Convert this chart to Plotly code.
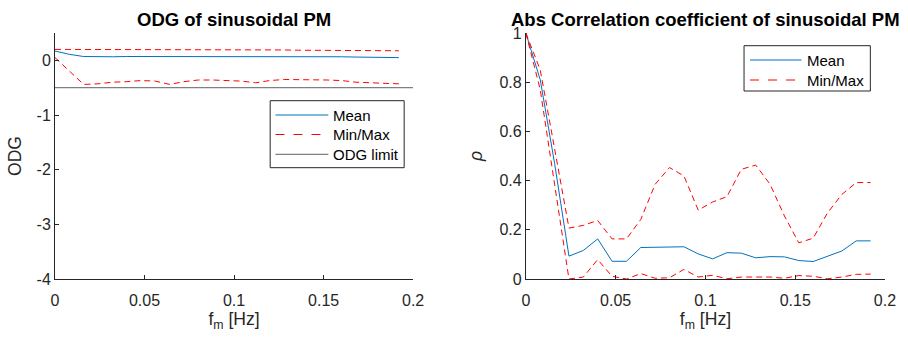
import plotly.graph_objects as go

# ---------------- data ----------------
fm = [0.0, 0.008, 0.016, 0.024, 0.032, 0.040, 0.048, 0.056, 0.064, 0.072,
      0.080, 0.088, 0.096, 0.104, 0.112, 0.120, 0.128, 0.136, 0.144, 0.152,
      0.160, 0.168, 0.176, 0.184, 0.192]

odg_mean = [0.17, 0.11, 0.07, 0.065, 0.065, 0.07, 0.07, 0.075, 0.075, 0.07,
            0.065, 0.065, 0.065, 0.07, 0.075, 0.075, 0.07, 0.07, 0.065, 0.065,
            0.065, 0.06, 0.06, 0.055, 0.05]
odg_max = [0.2, 0.2, 0.2, 0.195, 0.195, 0.195, 0.195, 0.195, 0.19, 0.19,
           0.19, 0.19, 0.19, 0.19, 0.19, 0.19, 0.19, 0.185, 0.185, 0.185,
           0.185, 0.18, 0.18, 0.18, 0.175]
odg_min = [0.05, -0.2, -0.44, -0.43, -0.40, -0.39, -0.37, -0.38, -0.44, -0.39,
           -0.36, -0.36, -0.37, -0.38, -0.41, -0.37, -0.35, -0.35, -0.36, -0.36,
           -0.37, -0.40, -0.41, -0.42, -0.43]
odg_limit_x = [0.0, 0.2]
odg_limit = [-0.5, -0.5]

rho_mean = [1.0, 0.81, 0.47, 0.093, 0.116, 0.163, 0.072, 0.072, 0.128, 0.129,
            0.131, 0.131, 0.102, 0.082, 0.107, 0.105, 0.086, 0.091, 0.09, 0.075,
            0.071, 0.091, 0.114, 0.155, 0.155]
rho_max = [1.0, 0.85, 0.53, 0.207, 0.218, 0.238, 0.163, 0.163, 0.242, 0.385,
           0.453, 0.419, 0.28, 0.313, 0.335, 0.446, 0.463, 0.385, 0.256, 0.147,
           0.166, 0.269, 0.344, 0.392, 0.392]
rho_min = [1.0, 0.77, 0.385, 0.0, 0.008, 0.079, 0.011, 0.0, 0.022, 0.003,
           0.005, 0.039, 0.008, 0.015, 0.001, 0.008, 0.008, 0.008, 0.003, 0.014,
           0.011, 0.001, 0.008, 0.019, 0.02]

x_ticks = [0, 0.05, 0.1, 0.15, 0.2]
x_ticktext = ["0", "0.05", "0.1", "0.15", "0.2"]
odg_ticks = [-4, -3, -2, -1, 0]
odg_ticktext = ["-4", "-3", "-2", "-1", "0"]
rho_ticks = [0, 0.2, 0.4, 0.6, 0.8, 1]
rho_ticktext = ["0", "0.2", "0.4", "0.6", "0.8", "1"]

legend_left_names = ["Mean", "Min/Max", "ODG limit"]
legend_right_names = ["Mean", "Min/Max"]

# ---------------- style ----------------
FONT = "Liberation Sans, Arial, Helvetica, sans-serif"
BLUE = "#0072BD"
RED = "#FF0000"
GRAY = "#808080"
AX = "#262626"
DASH = "6px,4px"

W, H = 908, 340
ML, MR, MT, MB = 55, 21, 33, 61
PW = W - ML - MR
PH = H - MT - MB


def px2x(px):
    return (px - ML) / PW


def py2y(py):
    return (H - MB - py) / PH


mean_line = dict(color=BLUE, width=1)
mm_line = dict(color=RED, width=1, dash=DASH)
lim_line = dict(color=GRAY, width=1.2)

fig = go.Figure()

# left panel
fig.add_trace(go.Scatter(x=fm, y=odg_mean, mode="lines", name="Mean", line=mean_line,
                         xaxis="x", yaxis="y", showlegend=False))
fig.add_trace(go.Scatter(x=fm, y=odg_max, mode="lines", name="Min/Max", line=mm_line,
                         xaxis="x", yaxis="y", showlegend=False))
fig.add_trace(go.Scatter(x=fm, y=odg_min, mode="lines", name="Min/Max", line=mm_line,
                         xaxis="x", yaxis="y", showlegend=False))
fig.add_trace(go.Scatter(x=odg_limit_x, y=odg_limit, mode="lines", name="ODG limit",
                         line=lim_line, xaxis="x", yaxis="y", showlegend=False))

# right panel
fig.add_trace(go.Scatter(x=fm, y=rho_mean, mode="lines", name="Mean", line=mean_line,
                         xaxis="x2", yaxis="y2", showlegend=False))
fig.add_trace(go.Scatter(x=fm, y=rho_max, mode="lines", name="Min/Max", line=mm_line,
                         xaxis="x2", yaxis="y2", showlegend=False))
fig.add_trace(go.Scatter(x=fm, y=rho_min, mode="lines", name="Min/Max", line=mm_line,
                         xaxis="x2", yaxis="y2", showlegend=False))

axis_common = dict(showgrid=False, zeroline=False, showline=True, linecolor=AX,
                   linewidth=1, ticks="inside", ticklen=4, tickcolor=AX, tickwidth=1,
                   tickfont=dict(family=FONT, size=16, color=AX), mirror=False)

LD = [0, px2x(414)]
RD = [px2x(527), 1.0]

# ---------------- legends (drawn as boxes + lines + text) ----------------
shapes = []
annotations = []


def add_legend(box, rows, line_x0, line_x1, text_x, names, styles):
    x0, x1, y0, y1 = box
    shapes.append(dict(type="rect", xref="paper", yref="paper",
                       x0=px2x(x0), x1=px2x(x1), y0=py2y(y0), y1=py2y(y1),
                       line=dict(color=AX, width=1), fillcolor="white", layer="above"))
    for ry, name, st in zip(rows, names, styles):
        shapes.append(dict(type="line", xref="paper", yref="paper",
                           x0=px2x(line_x0), x1=px2x(line_x1), y0=py2y(ry), y1=py2y(ry),
                           line=st, layer="above"))
        annotations.append(dict(text=name, x=px2x(text_x), y=py2y(ry), xref="paper",
                                yref="paper", xanchor="left", yanchor="middle",
                                showarrow=False, borderpad=0,
                                font=dict(family=FONT, size=15, color="black")))


add_legend((270.7, 405, 100.7, 167.7), [115, 134.5, 154.3], 276, 329, 332.5,
           legend_left_names, [mean_line, dict(color=RED, width=1, dash="dash"), lim_line])
add_legend((745.7, 872.3, 45.7, 91), [60, 80], 751.7, 803.3, 807.5,
           legend_right_names, [mean_line, dict(color=RED, width=1, dash="dash")])

annotations.append(dict(text="<b>ODG of sinusoidal PM</b>", x=sum(LD) / 2, y=py2y(19),
                        xref="paper", yref="paper", xanchor="center", yanchor="middle",
                        showarrow=False, borderpad=0,
                        font=dict(family=FONT, size=18.5, color="black")))
annotations.append(dict(text="<b>Abs Correlation coefficient of sinusoidal PM</b>",
                        x=sum(RD) / 2, y=py2y(19), xref="paper", yref="paper",
                        xanchor="center", yanchor="middle", showarrow=False, borderpad=0,
                        font=dict(family=FONT, size=18.5, color="black")))

fig.update_layout(
    width=W, height=H,
    margin=dict(l=ML, r=MR, t=MT, b=MB),
    paper_bgcolor="white", plot_bgcolor="white",
    font=dict(family=FONT, color="black"),
    showlegend=False,
    xaxis=dict(domain=LD, range=[0, 0.2], tickvals=x_ticks, ticktext=x_ticktext,
               anchor="y", ticklabelstandoff=7,
               title=dict(text="f<sub>m</sub> [Hz]", font=dict(size=17.6, color=AX), standoff=0),
               **axis_common),
    yaxis=dict(domain=[0, 1], range=[-4, 0.5], tickvals=odg_ticks, ticktext=odg_ticktext,
               anchor="x",
               title=dict(text="ODG", font=dict(size=17.6, color=AX), standoff=10),
               **axis_common),
    xaxis2=dict(domain=RD, range=[0, 0.2], tickvals=x_ticks, ticktext=x_ticktext,
                anchor="y2", ticklabelstandoff=7,
                title=dict(text="f<sub>m</sub> [Hz]", font=dict(size=17.6, color=AX), standoff=0),
                **axis_common),
    yaxis2=dict(domain=[0, 1], range=[0, 1], tickvals=rho_ticks, ticktext=rho_ticktext,
                anchor="x2",
                title=dict(text="<i>ρ</i>", font=dict(size=17.6, color=AX), standoff=12),
                **axis_common),
    shapes=shapes,
    annotations=annotations,
)

fig.write_html("out.html")
